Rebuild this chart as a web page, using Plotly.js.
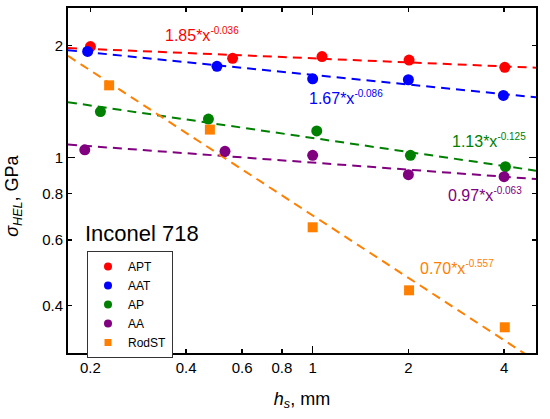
<!DOCTYPE html>
<html>
<head>
<meta charset="utf-8">
<script src="https://cdn.plot.ly/plotly-3.0.1.min.js"></script>
<style>html,body{margin:0;padding:0;background:#fff;}#chart{width:550px;height:419px;}</style>
</head>
<body>
<div id="chart"></div>
<script>
// Measured data points
const xAPT = [0.2, 0.56, 1.07, 2.01, 4.02];
const yAPT = [1.99, 1.85, 1.87, 1.83, 1.75];
const xAAT = [0.196, 0.5, 1.0, 2.0, 3.98];
const yAAT = [1.93, 1.76, 1.63, 1.62, 1.47];
const xAP = [0.215, 0.47, 1.03, 2.03, 4.04];
const yAP = [1.33, 1.27, 1.18, 1.015, 0.946];
const xAA = [0.192, 0.53, 1.0, 2.0, 4.0];
const yAA = [1.05, 1.04, 1.015, 0.90, 0.889];
const xRod = [0.229, 0.475, 1.0, 2.01, 4.02];
const yRod = [1.565, 1.19, 0.65, 0.44, 0.35];

// Fit line end points
const fitX = [0.17, 5.04];
const fitAPT = [1.972, 1.745];
const fitAAT = [1.945, 1.453];
const fitAP = [1.41, 0.923];
const fitAA = [1.085, 0.876];
const fitRod = [1.878, 0.284];

const seriesNames = ['APT', 'AAT', 'AP', 'AA', 'RodST'];
const fitLabels = ['1.85*x<sup>-0.036</sup>', '1.67*x<sup>-0.086</sup>', '1.13*x<sup>-0.125</sup>', '0.97*x<sup>-0.063</sup>', '0.70*x<sup>-0.557</sup>'];
const xTicks = [0.2, 0.4, 0.6, 0.8, 1, 2, 4];
const xTickText = ['0.2', '0.4', '0.6', '0.8', '1', '2', '4'];
const yTicks = [0.4, 0.6, 0.8, 1, 2];
const yTickText = ['0.4', '0.6', '0.8', '1', '2'];

const colors = ['#ff0000', '#0000ff', '#008000', '#800080', '#ff7f00'];
const xs = [xAPT, xAAT, xAP, xAA, xRod];
const ys = [yAPT, yAAT, yAP, yAA, yRod];
const fits = [fitAPT, fitAAT, fitAP, fitAA, fitRod];
const symbols = ['circle', 'circle', 'circle', 'circle', 'square'];

const FONT = 'Arial, "Liberation Sans", sans-serif';
const traces = [];
for (let i = 0; i < 5; i++) {
  traces.push({x: fitX, y: fits[i], mode: 'lines', type: 'scatter', showlegend: false, hoverinfo: 'skip',
    line: {color: colors[i], width: 2, dash: '9px,6px'}});
}
for (let i = 0; i < 5; i++) {
  traces.push({x: xs[i], y: ys[i], mode: 'markers', type: 'scatter', name: seriesNames[i], showlegend: false,
    marker: {color: colors[i], size: symbols[i] === 'square' ? 10 : 11, symbol: symbols[i]}});
}
for (let i = 0; i < 5; i++) {
  traces.push({x: [null], y: [null], mode: 'markers', type: 'scatter', name: seriesNames[i], showlegend: true,
    marker: {color: colors[i], size: symbols[i] === 'square' ? 7 : 8, symbol: symbols[i]}});
}

const annPos = [
  {x: 0.203, y: 0.922}, {x: 0.510, y: 0.742}, {x: 0.816, y: 0.615}, {x: 0.807, y: 0.458}, {x: 0.748, y: 0.249}
];
const annotations = fitLabels.map((t, i) => ({
  xref: 'paper', yref: 'paper', x: annPos[i].x, y: annPos[i].y, xanchor: 'left', yanchor: 'middle',
  text: t.replace('<sup>', '<sup><span style="font-size:10px">').replace('</sup>', '</span></sup>'),
  showarrow: false, font: {family: FONT, size: 16, color: colors[i]}
}));
annotations.push({xref: 'paper', yref: 'paper', x: 0.032, y: 0.345, xanchor: 'left', yanchor: 'middle',
  text: 'Inconel 718', showarrow: false, font: {family: FONT, size: 22, color: '#000'}});
// y-axis title placed as rotated annotation
annotations.push({xref: 'paper', yref: 'paper', x: -0.118, y: 0.455, xanchor: 'center', yanchor: 'middle',
  textangle: -90, text: '<i>σ</i><sub><i>HEL</i></sub>, GPa', showarrow: false,
  font: {family: FONT, size: 18, color: '#000'}});

const axisCommon = {
  type: 'log', showline: true, linecolor: '#000', linewidth: 2, mirror: 'ticks',
  ticks: 'inside', ticklen: 4, tickwidth: 1.5, tickcolor: '#000', tickmode: 'array',
  showgrid: false, zeroline: false, tickfont: {family: FONT, size: 15, color: '#000'},
  minor: {tickmode: 'array', tickvals: [1], ticks: 'inside', ticklen: 7, tickwidth: 1.5, tickcolor: '#000', showgrid: false}
};

const layout = {
  width: 550, height: 419,
  margin: {l: 68, r: 14, t: 8, b: 66},
  paper_bgcolor: '#fff', plot_bgcolor: '#fff',
  font: {family: FONT, color: '#000'},
  xaxis: Object.assign({}, axisCommon, {
    range: [Math.log10(0.17), Math.log10(5.04)], tickvals: xTicks, ticktext: xTickText,
    title: {text: '<i>h</i><sub><i>s</i></sub>, mm', font: {family: FONT, size: 18, color: '#000'}, standoff: 17}
  }),
  yaxis: Object.assign({}, axisCommon, {
    range: [Math.log10(0.2985), Math.log10(2.526)], tickvals: yTicks, ticktext: yTickText
  }),
  legend: {x: 0.0406, y: 0.2957, xanchor: 'left', yanchor: 'top', bgcolor: '#fff', bordercolor: '#333', borderwidth: 1,
    font: {family: FONT, size: 12, color: '#000'}, tracegroupgap: 0},
  annotations: annotations,
  showlegend: true
};

Plotly.newPlot('chart', traces, layout, {displayModeBar: false, staticPlot: true});
</script>
</body>
</html>
